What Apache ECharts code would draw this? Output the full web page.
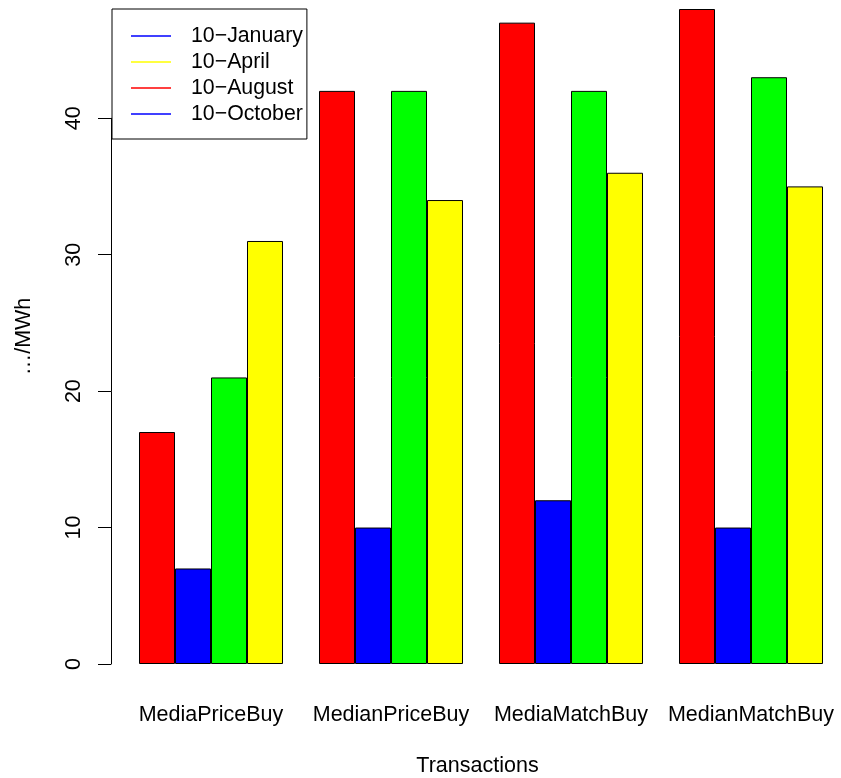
<!DOCTYPE html>
<html>
<head>
<meta charset="utf-8">
<script src="https://cdn.jsdelivr.net/npm/echarts@6/dist/echarts.min.js"></script>
<style>
html,body{margin:0;padding:0;background:#fff;}
#chart{width:841px;height:778px;}
</style>
</head>
<body>
<div id="chart"></div>
<script>
var categories = ["MediaPriceBuy", "MedianPriceBuy", "MediaMatchBuy", "MedianMatchBuy"];
var seriesNames = ["10\u2212January", "10\u2212April", "10\u2212August", "10\u2212October"];
var redValues = [17, 42, 47, 48];
var blueValues = [7, 10, 12, 10];
var greenValues = [21, 42, 42, 43];
var yellowValues = [31, 34, 36, 35];
var barColors = ["#FF0000", "#0000FF", "#00FF00", "#FFFF00"];
var legendColors = ["#0000FF", "#FFFF00", "#FF0000", "#0000FF"];
var yTicks = [0, 10, 20, 30, 40];
var yTitle = "\u2026/MWh";
var xTitle = "Transactions";

var values = [redValues, blueValues, greenValues, yellowValues];
var FONT = "Liberation Sans, Arial, Helvetica, sans-serif";

var chart = echarts.init(document.getElementById('chart'), null, {renderer: 'canvas'});

var series = values.map(function (v, i) {
  return {
    name: seriesNames[i],
    type: 'bar',
    xAxisIndex: 0,
    yAxisIndex: 0,
    data: v,
    barGap: '0%',
    barCategoryGap: '20%',
    itemStyle: {color: barColors[i], borderColor: '#000', borderWidth: 1},
    emphasis: {disabled: true},
    animation: false
  };
});

var option = {
  animation: false,
  backgroundColor: '#ffffff',
  textStyle: {fontFamily: FONT},
  legend: {
    orient: 'vertical',
    left: 112,
    top: 9,
    padding: [14, 4, 12, 19],
    itemGap: 0,
    itemWidth: 40,
    itemHeight: 1.5,
    icon: 'rect',
    borderColor: '#000',
    borderWidth: 1,
    backgroundColor: '#fff',
    selectedMode: false,
    textStyle: {fontSize: 21.3, color: '#000', lineHeight: 26, fontFamily: FONT, padding: [0, 0, 0, 15]},
    data: seriesNames.map(function (n, i) {
      return {name: n, itemStyle: {color: legendColors[i], borderWidth: 0}};
    })
  },
  grid: [
    {left: 121, width: 720, top: 9, bottom: 114, containLabel: false, outerBoundsMode: 'none'},
    {left: 121, width: 720, top: 118.3, bottom: 114, containLabel: false, outerBoundsMode: 'none'}
  ],
  xAxis: [
    {
      type: 'category', gridIndex: 0, data: categories,
      axisLine: {show: false}, axisTick: {show: false},
      axisLabel: {interval: 0, fontSize: 21.5, color: '#000', margin: 40, fontFamily: FONT},
      name: xTitle, nameLocation: 'middle', nameGap: 91,
      nameTextStyle: {fontSize: 21.5, color: '#000', fontFamily: FONT, padding: [0, 7, 0, 0]}
    },
    {
      type: 'category', gridIndex: 1, data: categories, show: false
    }
  ],
  yAxis: [
    {
      type: 'value', gridIndex: 0, min: 0, max: 48,
      axisLine: {show: false}, axisTick: {show: false}, axisLabel: {show: false},
      splitLine: {show: false},
      offset: 10,
      name: yTitle, nameLocation: 'middle', nameRotate: 90, nameGap: 76,
      nameTextStyle: {fontSize: 21.5, color: '#000', fontFamily: FONT}
    },
    {
      type: 'value', gridIndex: 1, min: 0, max: 40, interval: 10,
      offset: 10,
      axisLine: {show: true, lineStyle: {color: '#000', width: 1}},
      axisTick: {show: true, length: 13, lineStyle: {color: '#000', width: 1}},
      axisLabel: {
        rotate: 90, fontSize: 21.5, color: '#000', margin: 26, fontFamily: FONT,
        formatter: function (v) { return yTicks.indexOf(v) >= 0 ? String(v) : ''; }
      },
      splitLine: {show: false}
    }
  ],
  series: series
};

chart.setOption(option);
</script>
</body>
</html>
